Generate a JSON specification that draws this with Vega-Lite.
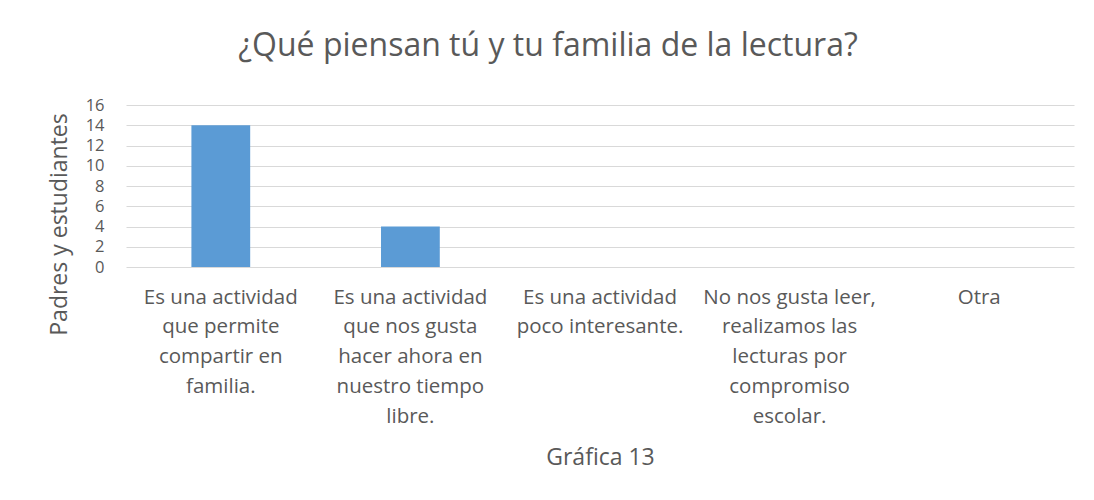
{
  "$schema": "https://vega.github.io/schema/vega-lite/v6.json",
  "width": 948,
  "height": 162,
  "autosize": "none",
  "padding": {"left": 126, "top": 105, "right": 20, "bottom": 233},
  "background": "white",
  "title": {
    "text": "¿Qué piensan tú y tu familia de la lectura?",
    "font": "Open Sans",
    "fontSize": 32,
    "fontWeight": "normal",
    "color": "#595959",
    "anchor": "middle",
    "dx": -52,
    "offset": 34
  },
  "data": {
    "values": [
      {"respuesta": "Es una actividad\nque permite\ncompartir en\nfamilia.", "orden": 1, "cantidad": 14},
      {"respuesta": "Es una actividad\nque nos gusta\nhacer ahora en\nnuestro tiempo\nlibre.", "orden": 2, "cantidad": 4},
      {"respuesta": "Es una actividad\npoco interesante.", "orden": 3, "cantidad": 0},
      {"respuesta": "No nos gusta leer,\nrealizamos las\nlecturas por\ncompromiso\nescolar.", "orden": 4, "cantidad": 0},
      {"respuesta": "Otra", "orden": 5, "cantidad": 0}
    ]
  },
  "mark": {"type": "bar", "color": "#5B9BD5"},
  "encoding": {
    "x": {
      "field": "respuesta",
      "type": "nominal",
      "sort": {"field": "orden"},
      "scale": {"paddingInner": 0.69, "paddingOuter": 0.345},
      "axis": {
        "title": "Gráfica 13",
        "labelAngle": 0,
        "labelExpr": "split(datum.label, '\\n')",
        "labelBaseline": "top",
        "labelLineHeight": 29.8,
        "labelLimit": 0,
        "labelPadding": 20,
        "ticks": false,
        "domain": false,
        "labelFont": "Open Sans",
        "labelFontSize": 20.5,
        "labelColor": "#595959",
        "titleFont": "Open Sans",
        "titleFontSize": 23,
        "titleFontWeight": "normal",
        "titleColor": "#595959",
        "titlePadding": 20
      }
    },
    "y": {
      "field": "cantidad",
      "type": "quantitative",
      "scale": {"domain": [0, 16], "nice": false},
      "axis": {
        "title": "Padres y estudiantes",
        "values": [0, 2, 4, 6, 8, 10, 12, 14, 16],
        "ticks": false,
        "domain": false,
        "labelPadding": 22,
        "labelFont": "Open Sans",
        "labelFontSize": 16.5,
        "labelColor": "#595959",
        "gridColor": "#D9D9D9",
        "gridWidth": 1,
        "titleFont": "Open Sans",
        "titleFontSize": 23,
        "titleFontWeight": "normal",
        "titleColor": "#595959",
        "titlePadding": 14,
        "titleY": 119
      }
    }
  },
  "config": {
    "view": {"stroke": null}
  }
}
